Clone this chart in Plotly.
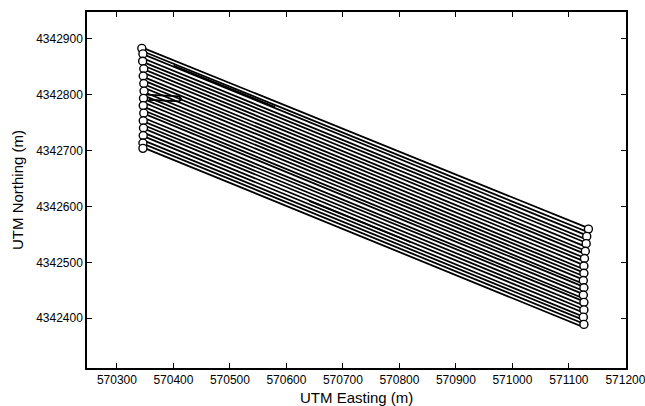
import plotly.graph_objects as go

# ---- data (UTM metres) ----
# one entry per harvest pass, top (north) to bottom (south)
west_end_e = [570348, 570350, 570352, 570351, 570350, 570352, 570353, 570352, 570351, 570353,
              570352, 570354, 570352, 570351, 570353, 570352, 570351, 570352, 570353, 570351,
              570352, 570351, 570353, 570352, 570351, 570350, 570352, 570350]
west_end_n = [4342883, 4342876, 4342870, 4342863, 4342857, 4342850, 4342843, 4342837, 4342830, 4342823,
              4342817, 4342810, 4342803, 4342797, 4342790, 4342784, 4342777, 4342770, 4342764, 4342757,
              4342750, 4342744, 4342737, 4342730, 4342724, 4342717, 4342710, 4342704]
east_end_e = [571130, 571129, 571127, 571126, 571126, 571125, 571124, 571124, 571123, 571122,
              571122, 571121, 571121, 571122, 571121, 571120, 571122, 571121, 571121, 571120,
              571122, 571121, 571122, 571121, 571120, 571121, 571122, 571121]
east_end_n = [4342563, 4342556, 4342550, 4342543, 4342537, 4342530, 4342523, 4342517, 4342510, 4342504,
              4342497, 4342490, 4342484, 4342477, 4342471, 4342464, 4342458, 4342451, 4342445, 4342438,
              4342432, 4342425, 4342418, 4342412, 4342405, 4342399, 4342392, 4342386]

# short partial pass near the west headland
short_e = [570352, 570410, 570414, 570410, 570356]
short_n = [4342800, 4342797, 4342792, 4342788, 4342791]

# overlapping (doubled) stretches of track that show up darker
overlap1_e = [570400, 570580]
overlap1_n = [4342852, 4342778]
overlap2_e = [570640, 570820]
overlap2_n = [4342610, 4342536]

x_ticks = [570300, 570400, 570500, 570600, 570700, 570800, 570900, 571000, 571100, 571200]
y_ticks = [4342400, 4342500, 4342600, 4342700, 4342800, 4342900]

# ---- build serpentine track ----
track_e, track_n = [], []
for i in range(len(west_end_e)):
    if i % 2 == 0:
        track_e += [west_end_e[i], east_end_e[i]]
        track_n += [west_end_n[i], east_end_n[i]]
    else:
        track_e += [east_end_e[i], west_end_e[i]]
        track_n += [east_end_n[i], west_end_n[i]]

# turn loops (centres between paired passes)
east_turn_e, east_turn_n = [], []
for i in range(0, len(east_end_e) - 1, 2):
    east_turn_e.append((east_end_e[i] + east_end_e[i + 1]) / 2 + 5)
    east_turn_n.append((east_end_n[i] + east_end_n[i + 1]) / 2)
west_turn_e, west_turn_n = [west_end_e[0] - 4], [west_end_n[0]]
for i in range(1, len(west_end_e) - 1, 2):
    west_turn_e.append((west_end_e[i] + west_end_e[i + 1]) / 2 - 5)
    west_turn_n.append((west_end_n[i] + west_end_n[i + 1]) / 2)
west_turn_e.append(west_end_e[-1] - 4)
west_turn_n.append(west_end_n[-1])

fig = go.Figure()
fig.add_trace(go.Scatter(x=track_e, y=track_n, mode="lines",
                         line=dict(color="black", width=1.8), hoverinfo="skip"))
for xs, ys in [(short_e, short_n), (overlap1_e, overlap1_n), (overlap2_e, overlap2_n)]:
    fig.add_trace(go.Scatter(x=xs, y=ys, mode="lines",
                             line=dict(color="black", width=1.8), hoverinfo="skip"))
fig.add_trace(go.Scatter(x=east_turn_e + west_turn_e, y=east_turn_n + west_turn_n, mode="markers",
                         marker=dict(symbol="circle", size=8, color="white",
                                     line=dict(color="black", width=1.4)),
                         hoverinfo="skip"))

font_family = "Liberation Sans, Arial, sans-serif"
axis_common = dict(showline=True, linecolor="black", linewidth=1.5, mirror="ticks",
                   ticks="inside", ticklen=5, tickwidth=1.2, tickcolor="black",
                   showgrid=False, zeroline=False, ticklabeloverflow="allow", automargin=False,
                   tickfont=dict(family=font_family, size=12, color="black"))

fig.update_layout(
    width=645, height=406,
    margin=dict(l=87, r=19, t=12, b=38, autoexpand=False),
    paper_bgcolor="white", plot_bgcolor="white",
    showlegend=False,
    xaxis=dict(range=[570247, 571201], tickvals=x_ticks, ticktext=[str(v) for v in x_ticks],
               **axis_common),
    yaxis=dict(range=[4342311, 4342948], tickvals=y_ticks, ticktext=[str(v) for v in y_ticks],
               **axis_common),
    annotations=[
        dict(text="UTM Easting (m)", xref="paper", yref="paper", x=0.5, y=0, yshift=-29,
             xanchor="center", yanchor="middle", showarrow=False,
             font=dict(family=font_family, size=15, color="black")),
        dict(text="UTM Northing (m)", xref="paper", yref="paper", x=0, y=0.5, xshift=-70,
             xanchor="center", yanchor="middle", textangle=-90, showarrow=False,
             font=dict(family=font_family, size=15, color="black")),
    ],
)

fig.write_html("out.html")
